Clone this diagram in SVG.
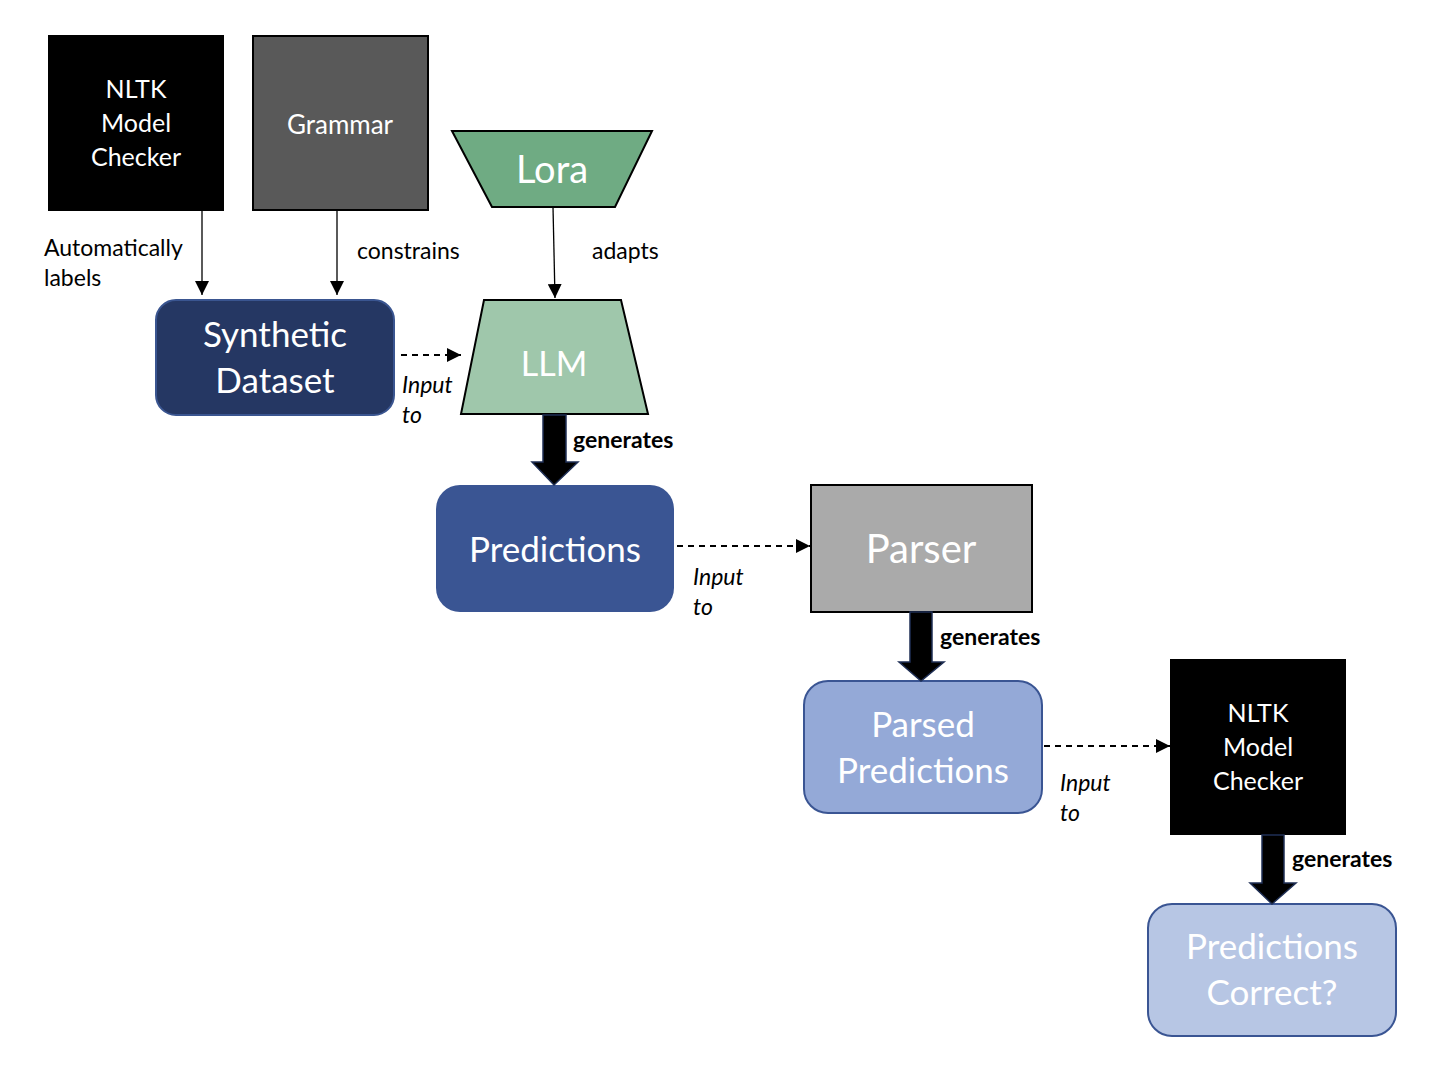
<svg xmlns="http://www.w3.org/2000/svg" width="1446" height="1076" viewBox="0 0 1446 1076">
<style>
text{font-family:Lato,"Open Sans","Liberation Sans",sans-serif;}
.w{fill:#fff;text-anchor:middle;}
.lbl{fill:#000;font-size:23px;}
.it{fill:#000;font-size:23px;font-style:italic;}
.gen{fill:#000;font-size:23px;font-weight:bold;}
.thin{stroke:#000;stroke-width:1.3;fill:none;}
.dash{stroke:#000;stroke-width:2;fill:none;stroke-dasharray:6,5;}
.block{fill:#000;stroke:#1f2f55;stroke-width:1.5;}
</style>
<defs>
<marker id="ah" viewBox="0 0 10 10" refX="10" refY="5" markerWidth="14" markerHeight="14" markerUnits="userSpaceOnUse" orient="auto">
<path d="M0,0 L10,5 L0,10 z" fill="#000"/>
</marker>
</defs>
<rect width="1446" height="1076" fill="#fff"/>

<g id="nltk1">
<rect x="48" y="35" width="176" height="176" fill="#000"/>
<text class="w" x="136" y="98" font-size="25">NLTK</text>
<text class="w" x="136" y="132" font-size="25">Model</text>
<text class="w" x="136" y="166" font-size="25">Checker</text>
</g>

<g id="grammar">
<rect x="253" y="36" width="175" height="174" fill="#595959" stroke="#000" stroke-width="2"/>
<text class="w" x="340" y="134" font-size="26">Grammar</text>
</g>

<g id="lora">
<polygon points="452,131 652,131 615,207 492,207" fill="#6fab83" stroke="#000" stroke-width="2"/>
<text class="w" x="552" y="183" font-size="38">Lora</text>
</g>

<g id="synthetic">
<rect x="156" y="300" width="238" height="115" rx="20" fill="#253763" stroke="#3a5590" stroke-width="2"/>
<text class="w" x="275" y="347" font-size="35">Synthetic</text>
<text class="w" x="275" y="393" font-size="35">Dataset</text>
</g>

<g id="llm">
<polygon points="484,300 621,300 648,414 461,414" fill="#9fc7ab" stroke="#000" stroke-width="2"/>
<text class="w" x="554" y="376" font-size="34">LLM</text>
</g>

<g id="predictions">
<rect x="436" y="485" width="238" height="127" rx="24" fill="#3a5593"/>
<text class="w" x="555" y="562" font-size="35">Predictions</text>
</g>

<g id="parser">
<rect x="811" y="485" width="221" height="127" fill="#aaaaaa" stroke="#000" stroke-width="2"/>
<text class="w" x="921" y="563" font-size="40">Parser</text>
</g>

<g id="parsed">
<rect x="804" y="681" width="238" height="132" rx="24" fill="#94a9d7" stroke="#3a5593" stroke-width="2"/>
<text class="w" x="923" y="737" font-size="35">Parsed</text>
<text class="w" x="923" y="783" font-size="35">Predictions</text>
</g>

<g id="nltk2">
<rect x="1170" y="659" width="176" height="176" fill="#000"/>
<text class="w" x="1258" y="722" font-size="25">NLTK</text>
<text class="w" x="1258" y="756" font-size="25">Model</text>
<text class="w" x="1258" y="790" font-size="25">Checker</text>
</g>

<g id="correct">
<rect x="1148" y="904" width="248" height="132" rx="24" fill="#b7c6e4" stroke="#3a5593" stroke-width="2"/>
<text class="w" x="1272" y="959" font-size="35">Predictions</text>
<text class="w" x="1272" y="1005" font-size="35">Correct?</text>
</g>

<g id="connectors">
<line class="thin" x1="202" y1="211" x2="202" y2="295" marker-end="url(#ah)"/>
<line class="thin" x1="337" y1="210" x2="337" y2="295" marker-end="url(#ah)"/>
<line class="thin" x1="553" y1="207" x2="555" y2="298" marker-end="url(#ah)"/>
<line class="dash" x1="401" y1="355" x2="461" y2="355" marker-end="url(#ah)"/>
<line class="dash" x1="677" y1="546" x2="810" y2="546" marker-end="url(#ah)"/>
<line class="dash" x1="1044" y1="746" x2="1170" y2="746" marker-end="url(#ah)"/>
<polygon class="block" points="543,415 566,415 566,462 578,462 554,485 532,462 543,462"/>
<polygon class="block" points="910,612 932,612 932,662 944,662 921,681 899,662 910,662"/>
<polygon class="block" points="1262,835 1284,835 1284,883 1296,883 1272,904 1250,883 1262,883"/>
<text class="lbl" x="44" y="256">Automatically</text>
<text class="lbl" x="44" y="286">labels</text>
<text class="lbl" x="357" y="259">constrains</text>
<text class="lbl" x="592" y="259">adapts</text>
<text class="it" x="402" y="393">Input</text>
<text class="it" x="402" y="423">to</text>
<text class="it" x="693" y="585">Input</text>
<text class="it" x="693" y="615">to</text>
<text class="it" x="1060" y="791">Input</text>
<text class="it" x="1060" y="821">to</text>
<text class="gen" x="573" y="448">generates</text>
<text class="gen" x="940" y="645">generates</text>
<text class="gen" x="1292" y="867">generates</text>
</g>
</svg>
